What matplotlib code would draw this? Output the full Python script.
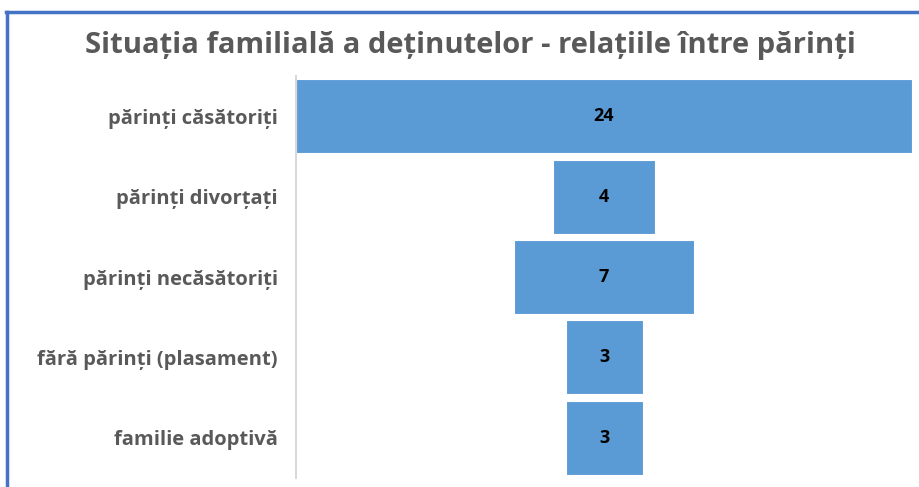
import matplotlib.pyplot as plt
from matplotlib.lines import Line2D

categories = ["părinți căsătoriți", "părinți divorțați", "părinți necăsătoriți",
              "fără părinți (plasament)", "familie adoptivă"]
values = [24, 4, 7, 3, 3]

title = "Situația familială a deținutelor - relațiile între părinți"

plt.rcParams['font.family'] = ['Open Sans', 'DejaVu Sans']

fig = plt.figure(figsize=(9.2, 4.87), dpi=100)
ax = fig.add_axes([296 / 920, 1 - 478 / 487, 616 / 920, 402 / 487])

ypos = list(range(len(values)))
lefts = [-v / 2 for v in values]
ax.barh(ypos, values, left=lefts, height=0.92, color="#5B9BD5",
        edgecolor="white", linewidth=0.8)
for y, v in zip(ypos, values):
    ax.text(0, y, str(v), ha="center", va="center", fontsize=13,
            fontweight="bold", color="black")

ax.set_xlim(-12, 12)
ax.set_ylim(len(values) - 0.5, -0.5)
ax.set_yticks(ypos)
ax.set_yticklabels(categories, fontsize=14.5, fontweight="bold", color="#595959")
ax.tick_params(axis="y", length=0, pad=13)
ax.set_xticks([])
for s in ["top", "right", "bottom"]:
    ax.spines[s].set_visible(False)
ax.spines["left"].set_color("#d9d9d9")
ax.spines["left"].set_linewidth(1.5)

fig.text(470 / 920, 1 - 46 / 487, title, ha="center", va="center",
         fontsize=21, fontweight="bold", color="#595959")

# blue frame (top and left edges visible)
fig.add_artist(Line2D([6 / 920, 1], [1 - 12 / 487] * 2, color="#4472C4",
                      lw=2.5, transform=fig.transFigure))
fig.add_artist(Line2D([7 / 920] * 2, [0, 1 - 12 / 487], color="#4472C4",
                      lw=2.5, transform=fig.transFigure))

fig.savefig("out.png", dpi=100)
